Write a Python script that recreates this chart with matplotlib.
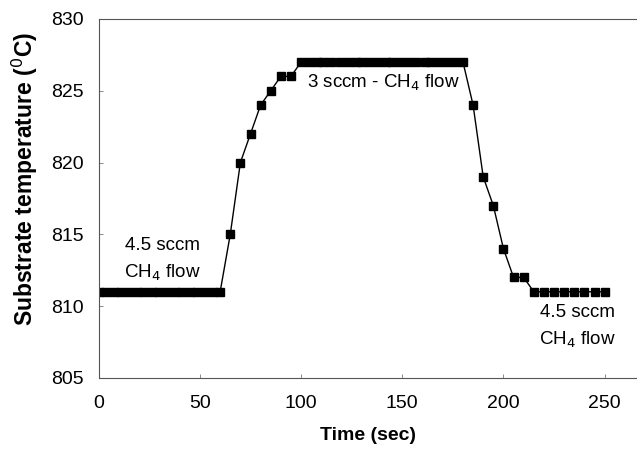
import numpy as np
import matplotlib
matplotlib.use("Agg")
import matplotlib.pyplot as plt

plt.rcParams['font.family'] = ['Liberation Sans', 'DejaVu Sans']

# time (sec) and substrate temperature (C)
t_start = [0, 3.75, 7.5, 11.25, 15, 18.75, 22.5, 26.25, 30, 33.75, 37.5, 41.25,
           45, 48.75, 52.5, 56.25, 60]
T_start = [811] * len(t_start)

t_rise = [65, 70, 75, 80, 85, 90, 95]
T_rise = [815, 820, 822, 824, 825, 826, 826]

t_top = [100, 104, 108, 111, 115, 119, 123, 127, 130, 134, 138, 142, 145, 149,
         153, 157, 161, 164, 168, 172, 176, 180]
T_top = [827] * len(t_top)

t_fall = [185, 190, 195, 200, 205, 210]
T_fall = [824, 819, 817, 814, 812, 812]

t_end = [215, 220, 225, 230, 235, 240, 245, 250]
T_end = [811] * len(t_end)

time = np.array(t_start + t_rise + t_top + t_fall + t_end)
temp = np.array(T_start + T_rise + T_top + T_fall + T_end)

fig = plt.figure(figsize=(6.37, 4.51), dpi=100)
ax = fig.add_axes([0.155, 0.162, 0.845, 0.796])

ax.plot(time, temp, color='black', lw=1.0, marker='s', markersize=6,
        markerfacecolor='black', markeredgecolor='black')

ax.set_xlim(0, 266)
ax.set_ylim(805, 830)
ax.set_xticks([0, 50, 100, 150, 200, 250])
ax.set_yticks([805, 810, 815, 820, 825, 830])
ax.tick_params(direction='in', length=3, width=0.6, color='#777777',
               labelsize=14)
ax.tick_params(axis='x', pad=12)
ax.tick_params(axis='y', pad=11)
for s in ['left', 'bottom', 'top']:
    ax.spines[s].set_color('#555555')
    ax.spines[s].set_linewidth(0.8)
ax.spines['right'].set_visible(False)

ax.set_xlabel('Time (sec)', fontsize=14, fontweight='bold', labelpad=11)
ax.set_ylabel('Substrate temperature ($^{0}$C)', fontsize=16.5,
              fontweight='bold')
ax.yaxis.set_label_coords(-0.11, 0.554)

fs = 13.5
ax.text(31.4, 813.9, '4.5 sccm', ha='center', va='baseline', fontsize=fs)
ax.text(31.4, 812.0, 'CH$_4$ flow', ha='center', va='baseline', fontsize=fs)
ax.text(103, 825.2, '3 sccm - CH$_4$ flow', ha='left', va='baseline', fontsize=fs)
ax.text(236.6, 809.25, '4.5 sccm', ha='center', va='baseline', fontsize=fs)
ax.text(236.6, 807.3, 'CH$_4$ flow', ha='center', va='baseline', fontsize=fs)

fig.savefig('out.png', dpi=100)
